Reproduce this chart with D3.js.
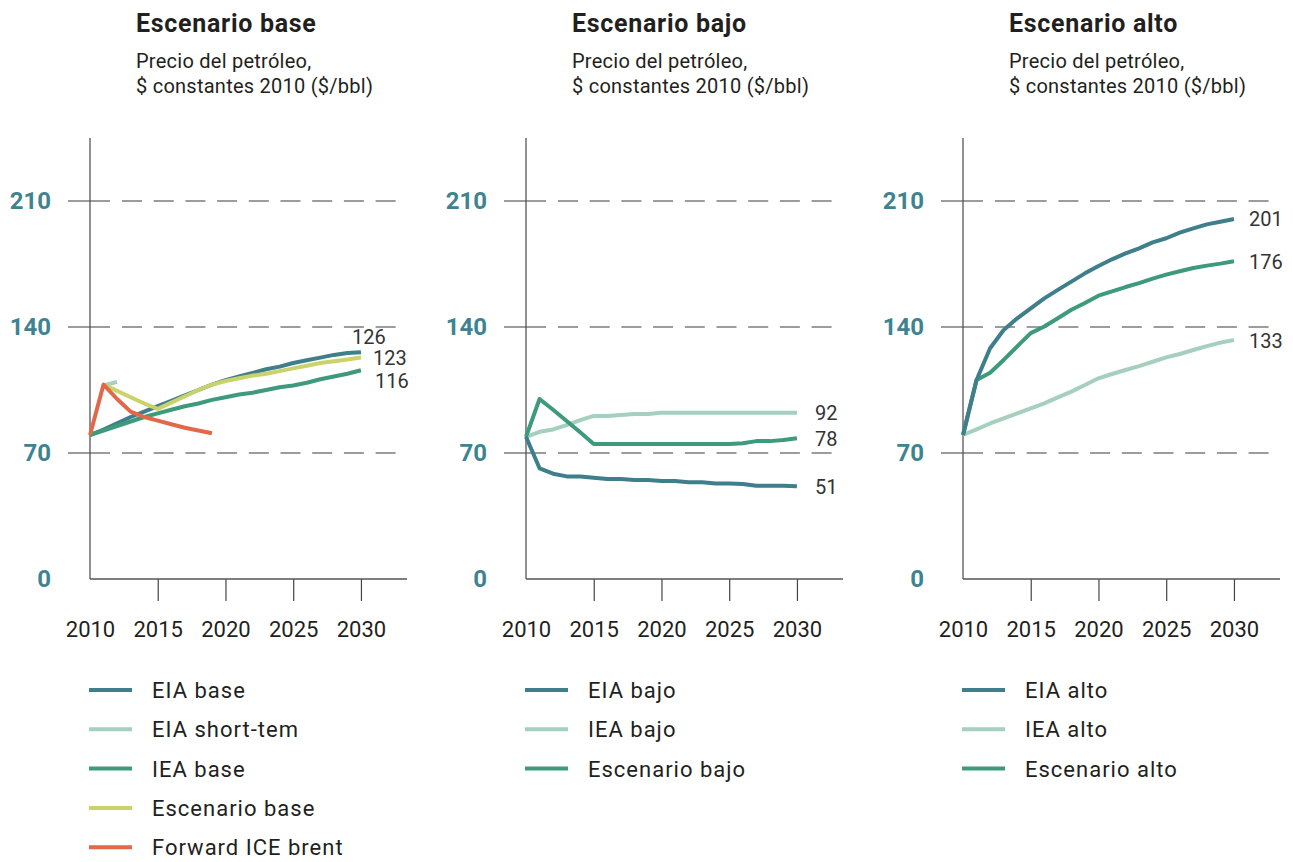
<!DOCTYPE html>
<html>
<head>
<meta charset="utf-8">
<script src="https://cdn.jsdelivr.net/npm/d3@7"></script>
<style>
  body { margin: 0; background: #fff; }
  svg { font-family: Roboto, "Noto Sans", sans-serif; }
</style>
</head>
<body>
<svg id="chart" width="1293" height="862"></svg>
<script>
// years on the x axis
var years = [2010, 2011, 2012, 2013, 2014, 2015, 2016, 2017, 2018, 2019, 2020,
             2021, 2022, 2023, 2024, 2025, 2026, 2027, 2028, 2029, 2030];
var xTickLabels = [2010, 2015, 2020, 2025, 2030];
var yTickLabels = [0, 70, 140, 210];

// Escenario base
var eiaBase = [80, 83, 86.5, 90, 93, 96, 99, 102, 105, 108, 110.5, 112.5, 114.5, 116.5, 118, 120, 121.5, 123, 124.5, 125.5, 126];
var eiaShortYears = [2011, 2012];
var eiaShort = [107.5, 109.5];
var ieaBase = [80, 82.5, 85, 87.5, 90, 92, 94, 96, 97.5, 99.5, 101, 102.5, 103.5, 105, 106.5, 107.5, 109, 111, 112.5, 114, 116];
var escBaseYears = years.slice(1);
var escBase = [108, 104.5, 101, 97.5, 94.5, 98, 101.5, 105, 108, 110, 111.5, 113, 114, 115.5, 117, 118.5, 120, 121, 122, 123];
var iceYears = years.slice(0, 10);
var iceBrent = [80, 108, 100, 93, 90, 88, 86, 84, 82.5, 81];

// Escenario bajo
var eiaBajo = [79, 61.5, 58.5, 57, 57, 56.3, 55.6, 55.6, 55, 55, 54.4, 54.4, 53.7, 53.7, 53, 53, 52.8, 51.8, 51.8, 51.8, 51.5];
var ieaBajo = [79, 81.8, 83.1, 85.5, 88.3, 90.6, 90.6, 91.1, 91.7, 91.7, 92.4, 92.4, 92.4, 92.4, 92.4, 92.4, 92.4, 92.4, 92.4, 92.4, 92.4];
var escBajo = [79, 100, 94, 87.8, 81.5, 75, 75, 75, 75, 75, 75, 75, 75, 75, 75, 75, 75.4, 76.6, 76.6, 77.2, 78.2];

// Escenario alto
var eiaAlto = [80, 110.6, 128.2, 138.3, 144.8, 150.4, 155.9, 160.6, 165.2, 169.8, 173.9, 177.6, 180.9, 183.7, 187, 189.3, 192.4, 194.8, 197, 198.5, 200];
var ieaAlto = [80, 83.1, 86.4, 89.2, 92, 94.8, 97.6, 100.9, 104.1, 107.8, 111.5, 113.9, 116.1, 118.3, 120.7, 123.1, 125, 127.2, 129.4, 131.3, 132.8];
var escAlto = [80, 110.6, 114.6, 121.7, 129.2, 136.6, 140.3, 144.9, 149.6, 153.3, 157.4, 159.8, 162.2, 164.4, 166.9, 169.1, 171, 172.8, 174.1, 175.2, 176.5];

var C = {
  dark: "#3e7f8b",
  light: "#a5cfbf",
  green: "#3e9a7c",
  yellow: "#c9d36a",
  orange: "#e1694a"
};

function zip(xs, ys) {
  return xs.map(function(x, i) { return { year: x, value: ys[i] }; });
}

var panels = [
  {
    x: 90, title: "Escenario base",
    series: [
      { name: "EIA base", color: C.dark, data: zip(years, eiaBase) },
      { name: "IEA base", color: C.green, data: zip(years, ieaBase) },
      { name: "EIA short-tem", color: C.light, data: zip(eiaShortYears, eiaShort) },
      { name: "Escenario base", color: C.yellow, data: zip(escBaseYears, escBase) },
      { name: "Forward ICE brent", color: C.orange, data: zip(iceYears, iceBrent) }
    ],
    legend: ["EIA base", "EIA short-tem", "IEA base", "Escenario base", "Forward ICE brent"],
    labels: [
      { text: "126", value: 126, dx: -9, dy: -15 },
      { text: "123", value: 123, dx: 12, dy: 0 },
      { text: "116", value: 116, dx: 14, dy: 11 }
    ]
  },
  {
    x: 526, title: "Escenario bajo",
    series: [
      { name: "IEA bajo", color: C.light, data: zip(years, ieaBajo) },
      { name: "Escenario bajo", color: C.green, data: zip(years, escBajo) },
      { name: "EIA bajo", color: C.dark, data: zip(years, eiaBajo) }
    ],
    legend: ["EIA bajo", "IEA bajo", "Escenario bajo"],
    labels: [
      { text: "92", value: 92.4, dx: 18, dy: 0 },
      { text: "78", value: 78.2, dx: 18, dy: 1 },
      { text: "51", value: 51.5, dx: 18, dy: 0 }
    ]
  },
  {
    x: 963, title: "Escenario alto",
    series: [
      { name: "IEA alto", color: C.light, data: zip(years, ieaAlto) },
      { name: "Escenario alto", color: C.green, data: zip(years, escAlto) },
      { name: "EIA alto", color: C.dark, data: zip(years, eiaAlto) }
    ],
    legend: ["EIA alto", "IEA alto", "Escenario alto"],
    labels: [
      { text: "201", value: 200, dx: 15, dy: 0 },
      { text: "176", value: 176.5, dx: 15, dy: 0 },
      { text: "133", value: 132.8, dx: 15, dy: 1 }
    ]
  }
];

var svg = d3.select("#chart");

var xScale = d3.scaleLinear().domain([2010, 2033.4]).range([0, 317]);
var yScale = d3.scaleLinear().domain([0, 245]).range([579, 138]);

var line = d3.line()
  .x(function(d) { return xScale(d.year); })
  .y(function(d) { return yScale(d.value); });

panels.forEach(function(p) {
  var g = svg.append("g").attr("transform", "translate(" + p.x + ",0)");

  // titles
  g.append("text")
    .attr("x", 46).attr("y", 32)
    .style("font-size", "25px").style("font-weight", "bold").style("fill", "#231f20")
    .style("letter-spacing", "0.7px")
    .text(p.title);
  g.append("text")
    .attr("x", 46).attr("y", 68)
    .style("font-size", "20px").style("fill", "#231f20")
    .style("letter-spacing", "0.25px")
    .text("Precio del petróleo,");
  g.append("text")
    .attr("x", 46).attr("y", 93)
    .style("font-size", "20px").style("fill", "#231f20")
    .style("letter-spacing", "0.25px")
    .text("$ constantes 2010 ($/bbl)");

  // gridlines
  var grid = yTickLabels.filter(function(v) { return v > 0; });
  grid.forEach(function(v) {
    g.append("line")
      .attr("x1", -22).attr("x2", 20)
      .attr("y1", yScale(v)).attr("y2", yScale(v))
      .style("stroke", "#3a3a3a").style("stroke-width", 1.2);
    g.append("line")
      .attr("x1", 32).attr("x2", 308)
      .attr("y1", yScale(v)).attr("y2", yScale(v))
      .style("stroke", "#3a3a3a").style("stroke-width", 1.2)
      .style("stroke-dasharray", "20,11.7");
  });

  // y axis line
  g.append("line")
    .attr("x1", 0).attr("x2", 0)
    .attr("y1", yScale(245)).attr("y2", yScale(0))
    .style("stroke", "#555").style("stroke-width", 1.3);

  // y tick labels
  var yAxis = d3.axisLeft(yScale).tickValues(yTickLabels).tickSize(0).tickPadding(39);
  var ya = g.append("g").call(yAxis);
  ya.select(".domain").remove();
  ya.selectAll("text")
    .style("font-family", "Roboto, sans-serif")
    .style("font-size", "24px").style("font-weight", "bold").style("fill", "#3e8390");

  // x axis
  var xAxis = d3.axisBottom(xScale).tickValues(xTickLabels).tickSize(22).tickPadding(20)
    .tickFormat(d3.format("d"));
  var xa = g.append("g").attr("transform", "translate(0," + yScale(0) + ")").call(xAxis);
  xa.select(".domain").remove();
  xa.selectAll(".tick line").style("stroke", "#444").style("stroke-width", 1.2)
    .filter(function(d) { return d === 2010; }).remove();
  xa.selectAll("text")
    .style("font-family", "Roboto, sans-serif")
    .style("font-size", "22px").style("fill", "#231f20");
  g.append("line")
    .attr("x1", 0).attr("x2", 317)
    .attr("y1", yScale(0)).attr("y2", yScale(0))
    .style("stroke", "#555").style("stroke-width", 1.3);

  // series
  p.series.forEach(function(s) {
    g.append("path")
      .datum(s.data)
      .attr("d", line)
      .style("fill", "none")
      .style("stroke", s.color)
      .style("stroke-width", 4)
      .style("stroke-linejoin", "round");
  });

  // end labels
  p.labels.forEach(function(l) {
    g.append("text")
      .attr("x", xScale(2030) + l.dx)
      .attr("y", yScale(l.value) + l.dy)
      .attr("dy", "0.36em")
      .style("font-size", "20px").style("fill", "#333")
      .text(l.text);
  });

  // legend
  p.legend.forEach(function(name, i) {
    var s = p.series.find(function(d) { return d.name === name; });
    var ly = 690 + i * 39.3;
    g.append("line")
      .attr("x1", -1).attr("x2", 42)
      .attr("y1", ly).attr("y2", ly)
      .style("stroke", s.color).style("stroke-width", 4);
    g.append("text")
      .attr("x", 62).attr("y", ly)
      .attr("dy", "0.36em")
      .style("font-size", "22px").style("fill", "#231f20")
      .style("letter-spacing", "1px")
      .text(name);
  });
});
</script>
</body>
</html>
